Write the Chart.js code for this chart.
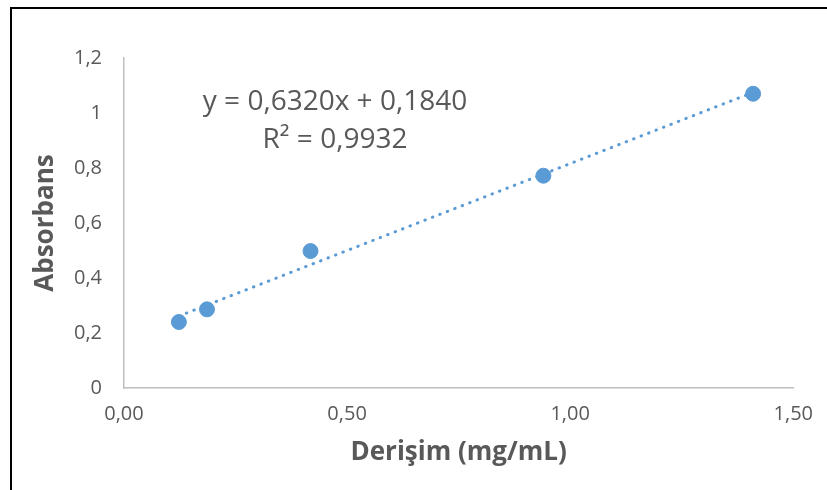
<!DOCTYPE html>
<html>
<head>
<meta charset="utf-8">
<script src="https://cdn.jsdelivr.net/npm/chart.js@4.4.1/dist/chart.umd.min.js"></script>
<style>
  html, body { margin: 0; padding: 0; background: #fff; }
  #wrap { position: relative; width: 827px; height: 490px; }
</style>
</head>
<body>
<div id="wrap"><canvas id="chart" width="827" height="490"></canvas></div>
<script>
// measured points (mg/mL vs absorbans)
const concentrations = [0.123, 0.186, 0.418, 0.940, 1.410];
const absorbances = [0.240, 0.286, 0.498, 0.772, 1.070];

// trendline as printed on the chart
const slope = 0.632;
const intercept = 0.184;
const equationLines = ['y = 0,6320x + 0,1840', 'R² = 0,9932'];

const xTitle = 'Derişim (mg/mL)';
const yTitle = 'Absorbans';

const BLUE = '#5b9bd5';
const GREY_TEXT = '#595959';
const AXIS = '#bfbfbf';

const points = concentrations.map((x, i) => ({ x, y: absorbances[i] }));
const xMin = Math.min(...concentrations);
const xMax = Math.max(...concentrations);
const trend = [
  { x: xMin, y: slope * xMin + intercept },
  { x: xMax, y: slope * xMax + intercept },
];

const comma = (v, digits) => v.toFixed(digits).replace('.', ',');

// frame lines (top + left edge of the chart box)
const framePlugin = {
  id: 'frame',
  beforeDraw(chart) {
    const { ctx } = chart;
    ctx.save();
    ctx.strokeStyle = '#000';
    ctx.lineWidth = 2;
    ctx.beginPath();
    ctx.moveTo(10, 8);
    ctx.lineTo(827, 8);
    ctx.moveTo(11, 7);
    ctx.lineTo(11, 490);
    ctx.stroke();
    ctx.restore();
  },
};

// equation label
const equationPlugin = {
  id: 'equation',
  afterDatasetsDraw(chart) {
    const { ctx, chartArea } = chart;
    const cx = chartArea.left + 211;
    ctx.save();
    ctx.fillStyle = GREY_TEXT;
    ctx.font = '28px "Open Sans"';
    ctx.textAlign = 'center';
    ctx.textBaseline = 'alphabetic';
    ctx.fillText(equationLines[0], cx, chartArea.top + 52);
    ctx.fillText(equationLines[1], cx, chartArea.top + 90);
    ctx.restore();
  },
};

new Chart(document.getElementById('chart'), {
  type: 'scatter',
  data: {
    datasets: [
      {
        type: 'line',
        label: 'trend',
        data: trend,
        borderColor: BLUE,
        borderWidth: 3,
        borderDash: [0.5, 7.5],
        borderCapStyle: 'round',
        pointRadius: 0,
        fill: false,
        order: 2,
      },
      {
        label: 'Absorbans',
        data: points,
        backgroundColor: BLUE,
        borderColor: BLUE,
        pointRadius: 7.5,
        pointHoverRadius: 7.5,
        order: 1,
      },
    ],
  },
  options: {
    responsive: false,
    animation: false,
    layout: { padding: { left: 20, top: 58, right: 28, bottom: 0 } },
    plugins: {
      legend: { display: false },
      tooltip: { enabled: false },
    },
    scales: {
      x: {
        type: 'linear',
        min: 0,
        max: 1.5,
        ticks: {
          stepSize: 0.5,
          color: GREY_TEXT,
          font: { family: 'Open Sans', size: 20 },
          padding: 14,
          callback: v => comma(v, 2),
        },
        grid: { drawOnChartArea: false, drawTicks: false },
        border: { color: AXIS, width: 1.5 },
        title: {
          display: true,
          text: xTitle,
          color: GREY_TEXT,
          font: { family: 'Open Sans', size: 26, weight: 'bold' },
          padding: { top: 0, bottom: 22 },
        },
        afterFit(scale) { scale.height = 102; },
      },
      y: {
        type: 'linear',
        min: 0,
        max: 1.2,
        ticks: {
          stepSize: 0.2,
          color: GREY_TEXT,
          font: { family: 'Open Sans', size: 20 },
          padding: 22,
          callback: v => {
            const r = Math.round(v * 10) / 10;
            return Number.isInteger(r) ? String(r) : comma(r, 1);
          },
        },
        grid: { drawOnChartArea: false, drawTicks: false },
        border: { color: AXIS, width: 1.5 },
        title: {
          display: true,
          text: yTitle,
          color: GREY_TEXT,
          font: { family: 'Open Sans', size: 26, weight: 'bold' },
          padding: { top: 10, bottom: 0 },
        },
        afterFit(scale) { scale.width = 104; },
      },
    },
  },
  plugins: [framePlugin, equationPlugin],
});
</script>
</body>
</html>
